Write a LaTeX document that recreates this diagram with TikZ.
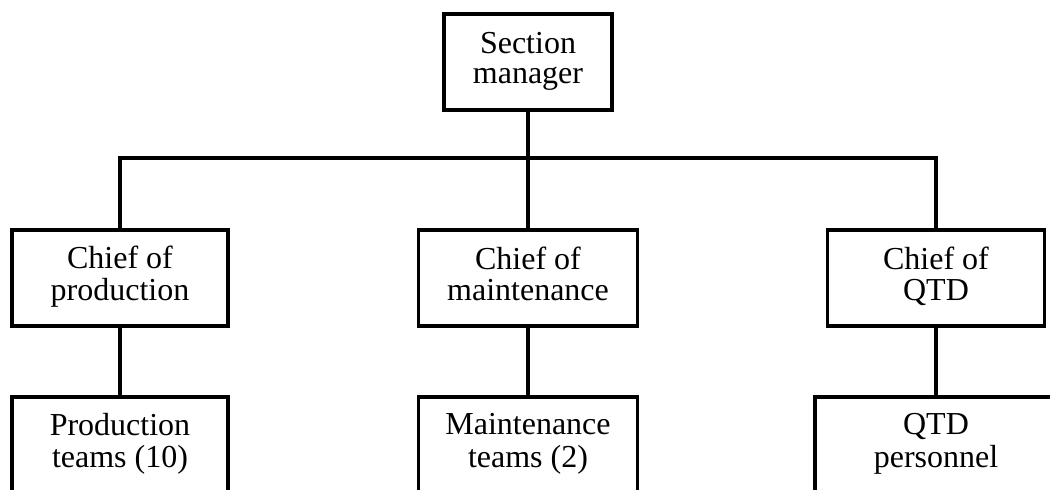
\documentclass[tikz,border=0pt]{standalone}
\usepackage{fontspec}
\setmainfont{Liberation Serif}
\begin{document}
\begin{tikzpicture}[x=1pt,y=-1pt,
  box/.style={draw=black, line width=3.5pt, inner sep=0pt, minimum height=96pt,
    align=center, font=\fontsize{32}{30}\selectfont},
  link/.style={line width=3.5pt}]
\clip (0,0) rectangle (1050,490);
\fill[white] (0,0) rectangle (1050,490);
\node[box, minimum width=168pt] (sm) at (528,62) {\strut Section\\\strut manager};
\node[box, minimum width=216pt] (cp) at (120,278) {\strut Chief of\\\strut production};
\node[box, minimum width=219pt] (cm) at (528,278) {\strut Chief of\\\strut maintenance};
\node[box, minimum width=217pt] (cq) at (936,278) {\strut Chief of\\\strut QTD};
\node[box, minimum width=216pt] (tp) at (120,445) {\strut Production\\\strut teams (10)};
\node[box, minimum width=219pt] (tm) at (528,445) {\strut Maintenance\\\strut teams (2)};
\node[box, minimum width=242pt] (tq) at (936,445) {\strut QTD\\\strut personnel};
\coordinate (bus) at (528,158);
\draw[link] (cp.north) |- (bus) -| (cq.north);
\draw[link] (sm.south) -- (bus);
\draw[link] (cm.north) -- (cm.north |- bus);
\draw[link] (cp.south) -- (tp.north);
\draw[link] (cm.south) -- (tm.north);
\draw[link] (cq.south) -- (tq.north);
\end{tikzpicture}
\end{document}
